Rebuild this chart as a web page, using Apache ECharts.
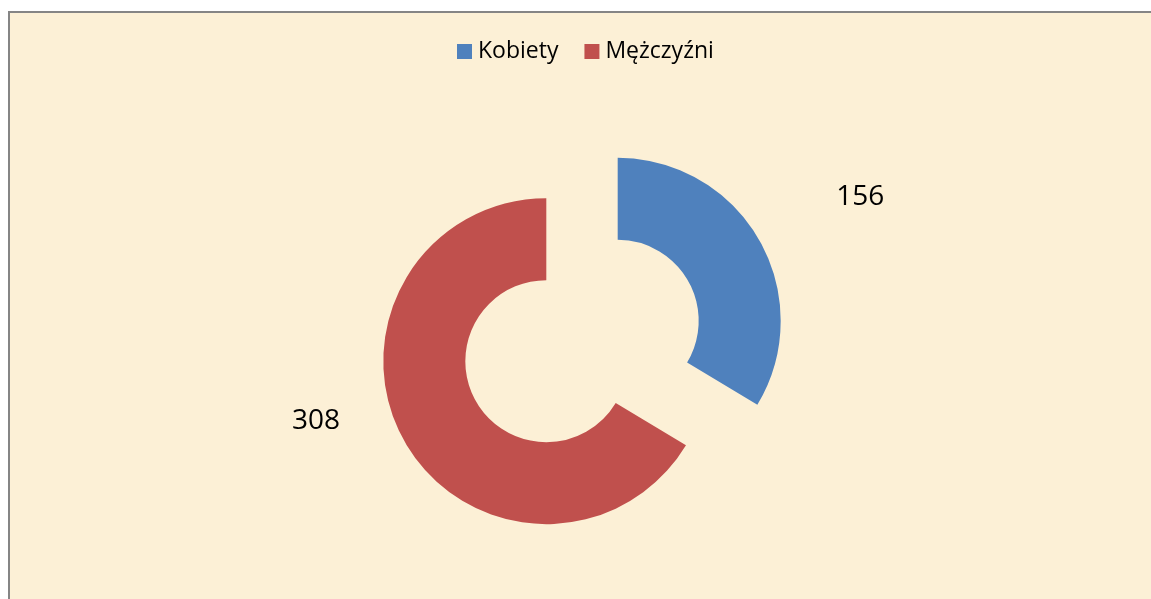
<!DOCTYPE html>
<html>
<head>
<meta charset="utf-8">
<script src="https://cdn.jsdelivr.net/npm/echarts@6/dist/echarts.min.js"></script>
<style>
  html, body { margin: 0; padding: 0; background: #ffffff; overflow: hidden; width: 1151px; height: 599px; }
  #frame { position: absolute; left: 8px; top: 11px; width: 1141px; height: 586px;
           border-left: 2px solid #858585; border-top: 2px solid #858585;
           background: #fcf0d6; }
  #chart { position: absolute; left: 0; top: 0; width: 1151px; height: 599px; }
</style>
</head>
<body>
<div id="frame"></div>
<div id="chart"></div>
<script>
const categories = ['Kobiety', 'Mężczyźni'];
const values = [156, 308];
const colors = ['#4f81bd', '#c0504d'];

const labelLines = [
  { length: 88, length2: 0 },
  { length: -42, length2: 101 }
];

const chart = echarts.init(document.getElementById('chart'), null, { renderer: 'canvas' });
chart.setOption({
  backgroundColor: 'transparent',
  animation: false,
  legend: {
    top: 40,
    left: 457,
    padding: 0,
    itemWidth: 15,
    itemHeight: 15,
    itemGap: 26,
    icon: 'rect',
    textStyle: { fontFamily: 'Open Sans', fontSize: 23, color: '#000', padding: [0, 0, 0, 1] },
    data: categories
  },
  series: [{
    type: 'pie',
    center: [582, 341],
    radius: [81, 163],
    startAngle: 90,
    clockwise: true,
    selectedMode: 'multiple',
    selectedOffset: 41,
    avoidLabelOverlap: false,
    silent: true,
    label: {
      show: true,
      position: 'outside',
      formatter: '{c}',
      fontFamily: 'Open Sans',
      fontSize: 28,
      color: '#000',
      distanceToLabelLine: 0
    },
    labelLine: { show: false },
    emphasis: { disabled: true },
    select: { label: { show: true } },
    data: categories.map((name, i) => ({
      name: name,
      value: values[i],
      selected: true,
      itemStyle: { color: colors[i] },
      labelLine: { show: false, length: labelLines[i].length, length2: labelLines[i].length2 }
    }))
  }]
});
</script>
</body>
</html>
